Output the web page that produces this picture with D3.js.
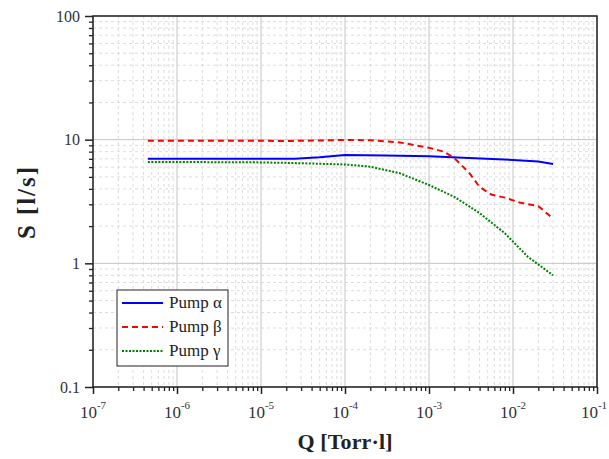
<!DOCTYPE html>
<html><head><meta charset="utf-8">
<script src="https://cdn.jsdelivr.net/npm/d3@7"></script>
<style>body{margin:0;background:#fff}svg{display:block}</style>
</head><body><svg id="c" width="609" height="459"></svg>
<script>
const seriesNames = ["Pump \u03b1", "Pump \u03b2", "Pump \u03b3"];
const qAlpha = [4.5e-7, 1e-6, 1e-5, 2.5e-5, 5e-5, 1e-4, 3e-4, 1e-3, 3e-3, 1e-2, 2e-2, 3e-2];
const sAlpha = [7.0, 7.0, 7.0, 7.0, 7.2, 7.5, 7.45, 7.35, 7.1, 6.85, 6.65, 6.35];
const qBeta = [4.5e-7, 1e-6, 1e-5, 2e-5, 5e-5, 1e-4, 2e-4, 4.5e-4, 1e-3, 1.5e-3, 2e-3, 3e-3, 4e-3, 5.5e-3, 8e-3, 1.2e-2, 2e-2, 3e-2];
const sBeta = [9.8, 9.8, 9.8, 9.75, 9.85, 9.95, 9.9, 9.5, 8.6, 8.0, 7.1, 5.4, 4.15, 3.6, 3.4, 3.1, 2.9, 2.3];
const qGamma = [4.5e-7, 1e-6, 1e-5, 3e-5, 1e-4, 2e-4, 4.5e-4, 1e-3, 2e-3, 4e-3, 8e-3, 1.5e-2, 3e-2];
const sGamma = [6.6, 6.6, 6.55, 6.45, 6.3, 6.05, 5.35, 4.3, 3.45, 2.55, 1.75, 1.13, 0.8];
const xTickExps = [-7, -6, -5, -4, -3, -2, -1];
const yTickLabels = ["0.1", "1", "10", "100"];
const yTickValues = [0.1, 1, 10, 100];

const FONT = "'Liberation Serif'";
const svg = d3.select("#c");
const L = 93, R = 597, T = 16, B = 387;
const x = d3.scaleLog().domain([1e-7, 1e-1]).range([L, R]);
const y = d3.scaleLog().domain([0.1, 100]).range([B, T]);

const xMinor = [], yMinor = [];
for (let e = -7; e < -1; e++) for (let m = 2; m <= 9; m++) xMinor.push(m * Math.pow(10, e));
for (let e = -1; e < 2; e++) for (let m = 2; m <= 9; m++) yMinor.push(m * Math.pow(10, e));
const xMajor = xTickExps.map(e => Math.pow(10, e));

const g = svg.append("g");
g.selectAll(".vmin").data(xMinor).join("line")
  .attr("x1", d => x(d)).attr("x2", d => x(d)).attr("y1", T).attr("y2", B)
  .attr("stroke", "#dcdcdc").attr("stroke-width", 1).attr("stroke-dasharray", "3,3");
g.selectAll(".hmin").data(yMinor).join("line")
  .attr("y1", d => y(d)).attr("y2", d => y(d)).attr("x1", L).attr("x2", R)
  .attr("stroke", "#dcdcdc").attr("stroke-width", 1).attr("stroke-dasharray", "3,3");
g.selectAll(".vmaj").data(xMajor).join("line")
  .attr("x1", d => x(d)).attr("x2", d => x(d)).attr("y1", T).attr("y2", B)
  .attr("stroke", "#c4c4c4").attr("stroke-width", 1);
g.selectAll(".hmaj").data(yTickValues).join("line")
  .attr("y1", d => y(d)).attr("y2", d => y(d)).attr("x1", L).attr("x2", R)
  .attr("stroke", "#c4c4c4").attr("stroke-width", 1);

svg.append("rect").attr("x", L).attr("y", T).attr("width", R - L).attr("height", B - T)
  .attr("fill", "none").attr("stroke", "#222").attr("stroke-width", 1.5);

const xAx = svg.append("g").attr("transform", `translate(0,${B})`)
  .call(d3.axisBottom(x).tickValues(xMajor).tickSize(7).tickFormat(""));
xAx.select(".domain").remove();
xAx.selectAll("line").attr("stroke", "#222").attr("stroke-width", 1.5);
const xAxm = svg.append("g").attr("transform", `translate(0,${B})`)
  .call(d3.axisBottom(x).tickValues(xMinor).tickSize(4).tickFormat(""));
xAxm.select(".domain").remove();
xAxm.selectAll("line").attr("stroke", "#222").attr("stroke-width", 1.3);
xTickExps.forEach(e => {
  const t = svg.append("text").attr("x", x(Math.pow(10, e)) - (e === -1 ? 3 : 0)).attr("y", B + 31)
    .attr("text-anchor", "middle").attr("font-size", 17).attr("fill", "#333").style("font-family", FONT);
  t.append("tspan").text("10");
  t.append("tspan").attr("dy", -9).attr("font-size", 11).text(String(e));
});

const yAx = svg.append("g").attr("transform", `translate(${L},0)`)
  .call(d3.axisLeft(y).tickValues(yTickValues).tickSize(8).tickPadding(5).tickFormat((d, i) => yTickLabels[i]));
yAx.select(".domain").remove();
yAx.selectAll("line").attr("stroke", "#222").attr("stroke-width", 1.5);
yAx.selectAll("text").attr("font-size", 16).attr("fill", "#333").style("font-family", FONT);
const yAxm = svg.append("g").attr("transform", `translate(${L},0)`)
  .call(d3.axisLeft(y).tickValues(yMinor).tickSize(4).tickFormat(""));
yAxm.select(".domain").remove();
yAxm.selectAll("line").attr("stroke", "#222").attr("stroke-width", 1.3);

svg.append("text").attr("x", 345).attr("y", 449).attr("text-anchor", "middle").style("font-family", FONT)
  .attr("font-size", 22).attr("font-weight", "bold").attr("fill", "#222")
  .attr("textLength", 95).attr("lengthAdjust", "spacing").text("Q [Torr\u00b7l]");
svg.append("text").attr("transform", "translate(35,203) rotate(-90)").attr("text-anchor", "middle").style("font-family", FONT)
  .attr("font-size", 25).attr("font-weight", "bold").attr("fill", "#222")
  .attr("textLength", 72).attr("lengthAdjust", "spacing").text("S [l/s]");

const line = d3.line().x(d => x(d[0])).y(d => y(d[1]));
const series = [
  {q: qAlpha, s: sAlpha, color: "#0000ff", dash: null},
  {q: qBeta, s: sBeta, color: "#ff0000", dash: "6,4"},
  {q: qGamma, s: sGamma, color: "#008000", dash: "2,1.5"}
];
series.forEach(sr => {
  svg.append("path").datum(sr.q.map((q, i) => [q, sr.s[i]]))
    .attr("d", line).attr("fill", "none").attr("stroke", sr.color)
    .attr("stroke-width", 2).attr("stroke-dasharray", sr.dash);
});

const lg = svg.append("g");
lg.append("rect").attr("x", 117).attr("y", 290).attr("width", 111).attr("height", 76)
  .attr("fill", "#fff").attr("stroke", "#222").attr("stroke-width", 1);
series.forEach((sr, i) => {
  const yy = 303 + i * 24;
  lg.append("line").attr("x1", 122).attr("x2", 163).attr("y1", yy).attr("y2", yy)
    .attr("stroke", sr.color).attr("stroke-width", 2).attr("stroke-dasharray", sr.dash);
  lg.append("text").attr("x", 169).attr("y", yy + 5).attr("font-size", 17).attr("fill", "#222")
    .style("font-family", FONT).text(seriesNames[i]);
});
</script></body></html>
